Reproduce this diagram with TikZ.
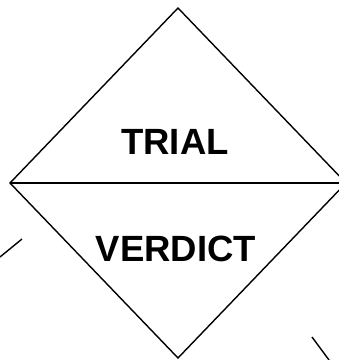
\documentclass[tikz,border=0pt]{standalone}
\usepackage{fontspec}
\setmainfont{Liberation Sans}
\usetikzlibrary{calc,positioning}

\begin{document}
\begin{tikzpicture}[
    x=1pt, y=1pt,
    line width=1.4pt,
    edge/.style={line width=1.4pt, line join=miter},
    label/.style={font=\fontsize{36.5}{40}\selectfont\bfseries, inner sep=0pt},
  ]

  % ---- frame ---------------------------------------------------------
  \useasboundingbox (0,0) rectangle (339,360);

  % ---- geometry ------------------------------------------------------
  \def\cx{178}     % centre of the diamond
  \def\cy{177}
  \def\hw{168}     % half width
  \def\hh{175}     % half height

  \coordinate (top)    at (\cx, \cy+\hh);
  \coordinate (bottom) at (\cx, \cy-\hh);
  \coordinate (left)   at (\cx-\hw, \cy);
  \coordinate (right)  at (\cx+\hw, \cy);

  % ---- diamond and split ---------------------------------------------
  \begin{scope}
    \clip (0,0) rectangle (339,360);
    \draw[edge] (top) -- (right) -- (bottom) -- (left) -- cycle;
    \draw[edge] (left) -- (right);
  \end{scope}

  % ---- texts ---------------------------------------------------------
  \node[label] (trial)   at (175,218) {TRIAL};
  \node[label] (verdict) at (176,111) {VERDICT};

  % ---- loose ends of outside connectors ------------------------------
  \coordinate (inA)  at (0,103);
  \coordinate (inB)  at (22,121);
  \coordinate (outA) at (312,23);
  \coordinate (outB) at (329,0);
  \draw[edge] (inA) -- (inB);
  \draw[edge] (outA) -- (outB);

\end{tikzpicture}
\end{document}
